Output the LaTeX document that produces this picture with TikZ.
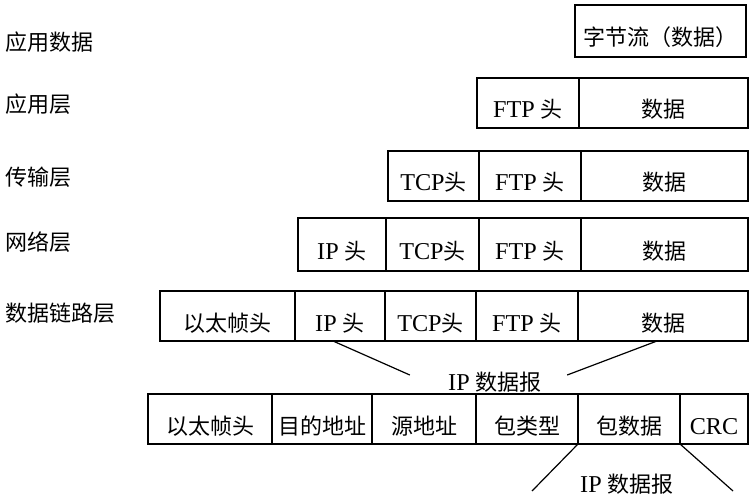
\documentclass[tikz,border=0pt]{standalone}
\usepackage{fontspec}
\setmainfont{Liberation Serif}[Scale=1.1]
\newfontfamily\cjk{Noto Sans CJK SC}

\tikzset{
    cell/.style={draw, line width=0.6pt, anchor=north west, minimum height=25pt,
        inner sep=0pt, outer sep=0pt, text height=15pt, text depth=0pt},
    layer/.style={anchor=west, inner sep=0pt},
    tag/.style={inner sep=0pt},
    link/.style={line width=0.6pt},
}

\begin{document}
\begin{tikzpicture}[x=0.5pt, y=-0.5pt, font=\fontsize{11}{13}\selectfont]
        \useasboundingbox (0, 0) rectangle (753, 502);

        % layer names
        \node[layer] (appdata) at (5, 42) {\cjk 应用数据};
        \node[layer] (app) at (5, 104) {\cjk 应用层};
        \node[layer] (trans) at (5, 177) {\cjk 传输层};
        \node[layer] (net) at (5, 242) {\cjk 网络层};
        \node[layer] (link) at (5, 313) {\cjk 数据链路层};

        % application data
        \node[cell, minimum width=85.5pt, minimum height=26pt] (bytes) at (575, 5) {\cjk 字节流（数据）};

        % application layer
        \node[cell, minimum width=51pt] (ftpA) at (477, 78) {FTP {\cjk 头}};
        \node[cell, minimum width=84.5pt] (dataA) at (ftpA.north east) {\cjk 数据};

        % transport layer
        \node[cell, minimum width=45.5pt] (tcpB) at (388, 151) {TCP{\cjk 头}};
        \node[cell, minimum width=51pt] (ftpB) at (tcpB.north east) {FTP {\cjk 头}};
        \node[cell, minimum width=83.5pt] (dataB) at (ftpB.north east) {\cjk 数据};

        % network layer
        \node[cell, minimum width=44pt, minimum height=26.5pt] (ipC) at (298, 218) {IP {\cjk 头}};
        \node[cell, minimum width=46.5pt, minimum height=26.5pt] (tcpC) at (ipC.north east) {TCP{\cjk 头}};
        \node[cell, minimum width=51pt, minimum height=26.5pt] (ftpC) at (tcpC.north east) {FTP {\cjk 头}};
        \node[cell, minimum width=83.5pt, minimum height=26.5pt] (dataC) at (ftpC.north east) {\cjk 数据};

        % data link layer
        \node[cell, minimum width=67.5pt] (ethD) at (160, 291) {\cjk 以太帧头};
        \node[cell, minimum width=45pt] (ipD) at (ethD.north east) {IP {\cjk 头}};
        \node[cell, minimum width=45.5pt] (tcpD) at (ipD.north east) {TCP{\cjk 头}};
        \node[cell, minimum width=51pt] (ftpD) at (tcpD.north east) {FTP {\cjk 头}};
        \node[cell, minimum width=85pt] (dataD) at (ftpD.north east) {\cjk 数据};

        \node[tag] (dgramA) at (495, 382) {IP {\cjk 数据报}};
        \draw[link] ([xshift=-3.5pt]ipD.south) -- ([xshift=-19pt, yshift=3.5pt]dgramA.west);
        \draw[link] ([xshift=-3pt]dataD.south) -- ([xshift=12.5pt, yshift=3.5pt]dgramA.east);

        % ethernet frame
        \node[cell, minimum width=62pt] (ethE) at (148, 394) {\cjk 以太帧头};
        \node[cell, minimum width=50pt] (dstE) at (ethE.north east) {\cjk 目的地址};
        \node[cell, minimum width=52pt] (srcE) at (dstE.north east) {\cjk 源地址};
        \node[cell, minimum width=51pt] (typeE) at (srcE.north east) {\cjk 包类型};
        \node[cell, minimum width=51pt] (payE) at (typeE.north east) {\cjk 包数据};
        \node[cell, minimum width=34pt] (crcE) at (payE.north east) {CRC};

        \node[tag] (dgramB) at (627, 484) {IP {\cjk 数据报}};
        \coordinate (cutL) at (532, 491);
        \coordinate (cutR) at (733, 491);
        \draw[link] (payE.south west) -- (cutL);
        \draw[link] (payE.south east) -- (cutR);
    \end{tikzpicture}
\end{document}
